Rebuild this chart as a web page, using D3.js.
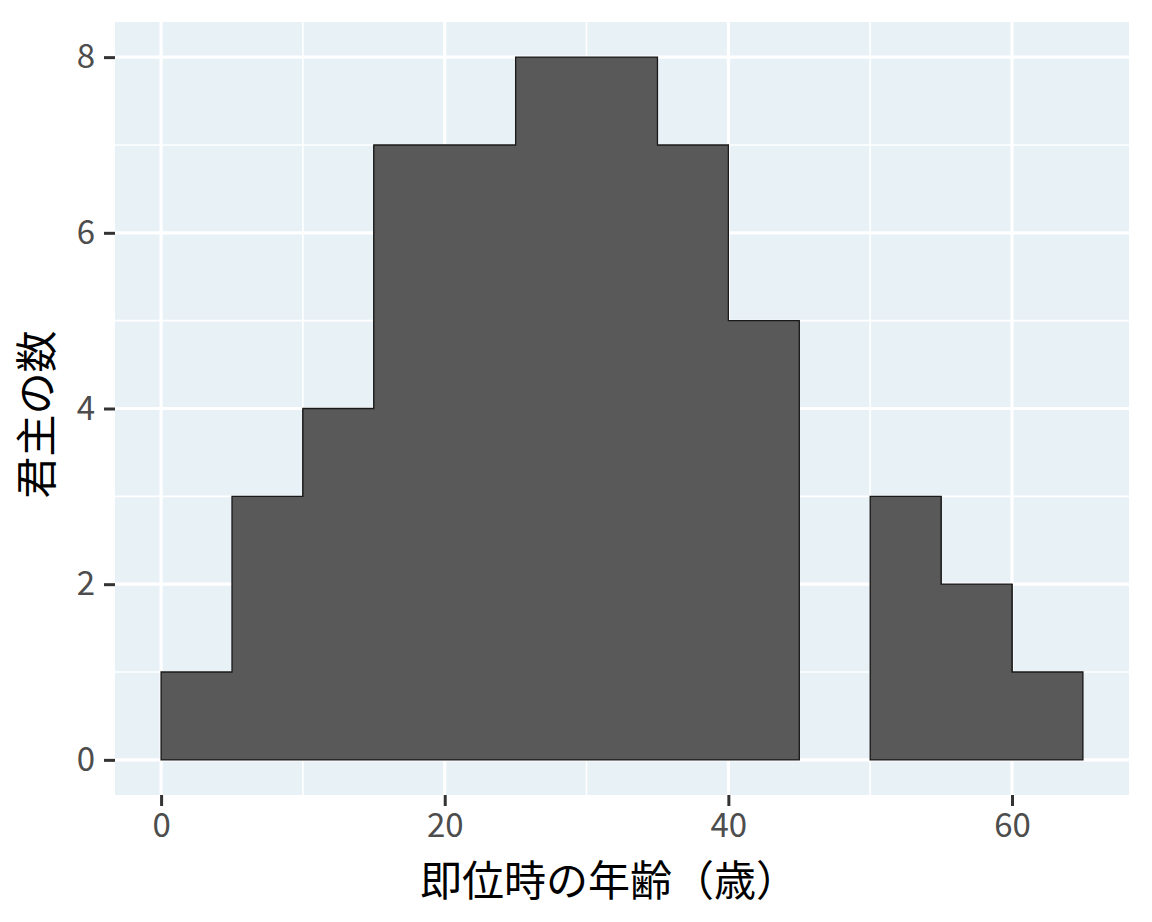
<!DOCTYPE html>
<html>
<head>
<meta charset="utf-8">
<script src="https://cdn.jsdelivr.net/npm/d3@7"></script>
<style>
  html, body { margin: 0; padding: 0; background: #fff; }
  svg text { font-family: "Noto Sans CJK JP", "Noto Sans", sans-serif; }
</style>
</head>
<body>
<div id="chart"></div>
<script>
// histogram bins (age at accession, width 5)
const binStarts = [0, 5, 10, 15, 20, 25, 30, 35, 40, 45, 50, 55, 60];
const binWidth = 5;
const counts = [1, 3, 4, 7, 7, 8, 8, 7, 5, 0, 3, 2, 1];
const xTicks = [0, 20, 40, 60];
const yTicks = [0, 2, 4, 6, 8];
const xLabel = "即位時の年齢（歳）";
const yLabel = "君主の数";

const W = 1152, H = 922;
const panel = { left: 115, right: 1129, top: 22, bottom: 795 };

const svg = d3.select("#chart").append("svg")
    .attr("width", W)
    .attr("height", H);

const xMin = d3.min(binStarts), xMax = d3.max(binStarts) + binWidth;
const xPad = (xMax - xMin) * 0.05;
const x = d3.scaleLinear()
    .domain([xMin - xPad, xMax + xPad])
    .range([panel.left, panel.right]);

const yMax = d3.max(counts);
const yPad = yMax * 0.05;
const y = d3.scaleLinear()
    .domain([-yPad, yMax + yPad])
    .range([panel.bottom, panel.top]);

// panel background
svg.append("rect")
    .attr("x", panel.left)
    .attr("y", panel.top)
    .attr("width", panel.right - panel.left)
    .attr("height", panel.bottom - panel.top)
    .attr("fill", "#e8f1f5");

// minor grid
const xMinor = d3.range(10, 70, 20);
const yMinor = d3.range(1, 9, 2);
const grid = svg.append("g");
grid.selectAll(".xminor").data(xMinor).enter().append("line")
    .attr("x1", d => x(d)).attr("x2", d => x(d))
    .attr("y1", panel.top).attr("y2", panel.bottom)
    .attr("stroke", "#fff").attr("stroke-width", 1.6);
grid.selectAll(".yminor").data(yMinor).enter().append("line")
    .attr("y1", d => y(d)).attr("y2", d => y(d))
    .attr("x1", panel.left).attr("x2", panel.right)
    .attr("stroke", "#fff").attr("stroke-width", 1.6);
// major grid
grid.selectAll(".xmajor").data(xTicks).enter().append("line")
    .attr("x1", d => x(d)).attr("x2", d => x(d))
    .attr("y1", panel.top).attr("y2", panel.bottom)
    .attr("stroke", "#fff").attr("stroke-width", 3.2);
grid.selectAll(".ymajor").data(yTicks).enter().append("line")
    .attr("y1", d => y(d)).attr("y2", d => y(d))
    .attr("x1", panel.left).attr("x2", panel.right)
    .attr("stroke", "#fff").attr("stroke-width", 3.2);

// bars: filled without internal borders, outlined as one silhouette per run
const bins = binStarts.map((s, i) => ({ s: s, n: counts[i] }));
svg.append("g").selectAll("rect")
    .data(bins.filter(d => d.n > 0))
    .enter().append("rect")
    .attr("x", d => x(d.s) - 0.5)
    .attr("y", d => y(d.n))
    .attr("width", d => x(d.s + binWidth) - x(d.s) + 1)
    .attr("height", d => y(0) - y(d.n))
    .attr("fill", "#595959")
    .attr("shape-rendering", "crispEdges");

const runs = [];
let cur = null;
bins.forEach(d => {
    if (d.n > 0) {
        if (!cur) { cur = []; runs.push(cur); }
        cur.push(d);
    } else {
        cur = null;
    }
});
const line = d3.line().x(p => x(p[0])).y(p => y(p[1]));
svg.append("g").selectAll("path")
    .data(runs)
    .enter().append("path")
    .attr("d", r => {
        const pts = [[r[0].s, 0]];
        r.forEach(d => { pts.push([d.s, d.n]); pts.push([d.s + binWidth, d.n]); });
        pts.push([r[r.length - 1].s + binWidth, 0]);
        return line(pts) + "Z";
    })
    .attr("fill", "#595959")
    .attr("stroke", "#1a1a1a")
    .attr("stroke-width", 1.3);

// axes
const xAxis = svg.append("g")
    .attr("transform", `translate(0, ${panel.bottom})`)
    .call(d3.axisBottom(x).tickValues(xTicks).tickSize(11).tickPadding(8).tickFormat(d3.format("d")));
const yAxis = svg.append("g")
    .attr("transform", `translate(${panel.left}, 0)`)
    .call(d3.axisLeft(y).tickValues(yTicks).tickSize(11).tickPadding(9).tickFormat(d3.format("d")));

[xAxis, yAxis].forEach(a => {
    a.select(".domain").remove();
    a.selectAll(".tick line").attr("stroke", "#333").attr("stroke-width", 3);
    a.selectAll(".tick text")
        .attr("fill", "#4d4d4d")
        .style("font-size", "33px");
});

// axis titles
svg.append("text")
    .attr("x", (panel.left + panel.right) / 2 - 13)
    .attr("y", 896)
    .attr("text-anchor", "middle")
    .attr("fill", "#000")
    .style("font-size", "42px")
    .text(xLabel);

svg.append("text")
    .attr("transform", `translate(52, ${(panel.top + panel.bottom) / 2 + 6}) rotate(-90)`)
    .attr("text-anchor", "middle")
    .attr("fill", "#000")
    .style("font-size", "42px")
    .text(yLabel);
</script>
</body>
</html>
